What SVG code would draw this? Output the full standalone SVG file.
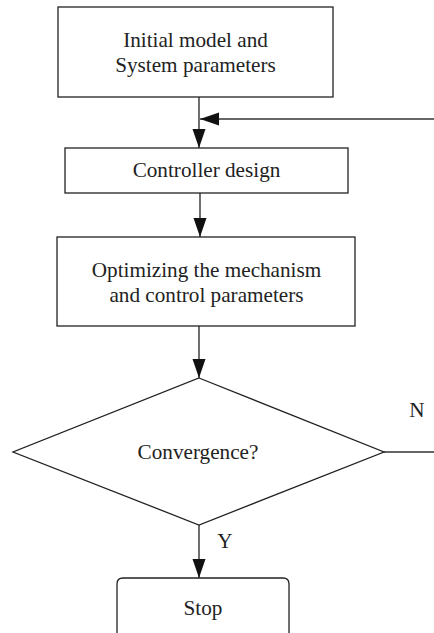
<svg xmlns="http://www.w3.org/2000/svg" width="434" height="633" viewBox="0 0 434 633">
<style>
.box{fill:#fff;stroke:#222;stroke-width:1.3}
.ln{fill:none;stroke:#333;stroke-width:1.4}
text{font-family:"Liberation Serif","Times New Roman",serif;font-size:21.2px;fill:#222;text-anchor:middle}
</style>
<defs>
<marker id="ah" markerUnits="userSpaceOnUse" markerWidth="20" markerHeight="14" refX="19" refY="6.5" orient="auto">
<path d="M0,0 L19,6.5 L0,13 Z" fill="#111"/>
</marker>
</defs>
<rect width="434" height="633" fill="#fff"/>
<g id="connectors">
<path class="ln" d="M199,97 V148" marker-end="url(#ah)"/>
<path class="ln" d="M434,119 H200" marker-end="url(#ah)"/>
<path class="ln" d="M200,193 V237" marker-end="url(#ah)"/>
<path class="ln" d="M199,326 V378" marker-end="url(#ah)"/>
<path class="ln" d="M384,452 H434"/>
<path class="ln" d="M199,525 V578" marker-end="url(#ah)"/>
<text x="417" y="417">N</text>
<text x="225" y="548">Y</text>
</g>
<g id="init">
<rect class="box" x="58" y="7" width="275" height="90"/>
<text x="195.5" y="47">Initial model and</text>
<text x="195.5" y="72">System parameters</text>
</g>
<g id="controller">
<rect class="box" x="65" y="148" width="283" height="45"/>
<text x="206.5" y="177">Controller design</text>
</g>
<g id="optimize">
<rect class="box" x="57" y="237" width="298" height="89"/>
<text x="206.5" y="277">Optimizing the mechanism</text>
<text x="206.5" y="302">and control parameters</text>
</g>
<g id="convergence">
<path class="box" d="M199,378 L384,452 L199,525 L13,452 Z"/>
<text x="198" y="459">Convergence?</text>
</g>
<g id="stop">
<path class="box" d="M117,640 V584 Q117,578 123,578 H283 Q289,578 289,584 V640"/>
<text x="203" y="615">Stop</text>
</g>
</svg>
